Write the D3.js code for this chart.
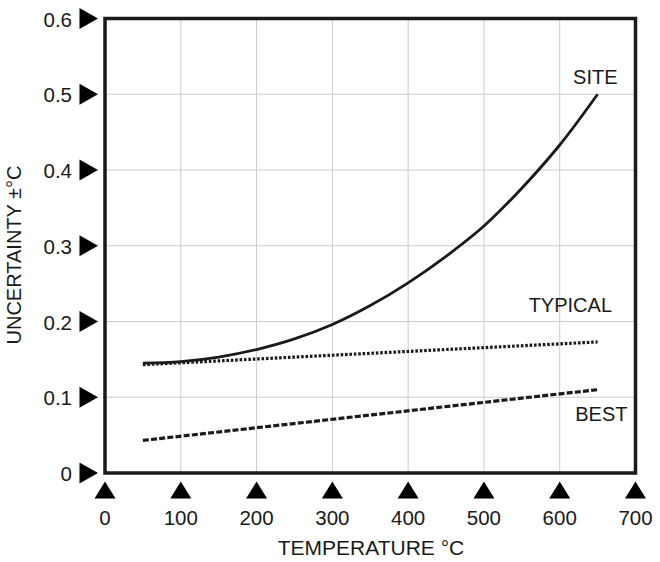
<!DOCTYPE html>
<html>
<head>
<meta charset="utf-8">
<script src="https://cdn.jsdelivr.net/npm/d3@7"></script>
<style>
  body { margin: 0; background: #fff; }
  text { font-family: "Liberation Sans", Arial, sans-serif; fill: #1a1a1a; }
</style>
</head>
<body>
<div id="chart"></div>
<script>
// data
var xTicks = [0, 100, 200, 300, 400, 500, 600, 700];
var yTicks = [0, 0.1, 0.2, 0.3, 0.4, 0.5, 0.6];
var yTickLabels = ["0", "0.1", "0.2", "0.3", "0.4", "0.5", "0.6"];

var siteTemps = [50, 100, 150, 200, 250, 300, 350, 400, 450, 500, 550, 600, 650];
var siteValues = [0.145, 0.147, 0.153, 0.163, 0.177, 0.196, 0.221, 0.251, 0.286, 0.326, 0.376, 0.433, 0.500];
var lineTemps = [50, 650];
var typicalValues = [0.143, 0.173];
var bestValues = [0.043, 0.110];

var seriesLabels = ["SITE", "TYPICAL", "BEST"];

var
  W = 660, H = 562,
  margin = {top: 18.5, right: 24.5, bottom: 89, left: 105},
  width = W - margin.left - margin.right,
  height = H - margin.top - margin.bottom;

var svg = d3.select("#chart")
  .append("svg")
  .attr("width", W)
  .attr("height", H);

var g = svg.append("g")
  .attr("transform", "translate(" + margin.left + "," + margin.top + ")");

var x = d3.scaleLinear().domain([0, 700]).range([0, width]);
var y = d3.scaleLinear().domain([0, 0.6]).range([height, 0]);

// grid
g.append("g").selectAll("line")
  .data(xTicks.slice(1, -1))
  .enter().append("line")
    .attr("x1", x).attr("x2", x)
    .attr("y1", 0).attr("y2", height)
    .attr("stroke", "#cbcbcb").attr("stroke-width", 1);

g.append("g").selectAll("line")
  .data(yTicks.slice(1, -1))
  .enter().append("line")
    .attr("y1", y).attr("y2", y)
    .attr("x1", 0).attr("x2", width)
    .attr("stroke", "#cbcbcb").attr("stroke-width", 1);

// series
var line = d3.line()
  .x(function(d) { return x(d[0]); })
  .y(function(d) { return y(d[1]); });

g.append("path")
  .datum(d3.zip(siteTemps, siteValues))
  .attr("fill", "none")
  .attr("stroke", "#1a1a1a")
  .attr("stroke-width", 2.8)
  .attr("d", line.curve(d3.curveCatmullRom.alpha(0.5)));

g.append("path")
  .datum(d3.zip(lineTemps, typicalValues))
  .attr("fill", "none")
  .attr("stroke", "#1a1a1a")
  .attr("stroke-width", 3.2)
  .attr("stroke-dasharray", "2.6,1.8")
  .attr("d", line.curve(d3.curveLinear));

g.append("path")
  .datum(d3.zip(lineTemps, bestValues))
  .attr("fill", "none")
  .attr("stroke", "#1a1a1a")
  .attr("stroke-width", 3.2)
  .attr("stroke-dasharray", "6,2.2")
  .attr("d", line.curve(d3.curveLinear));

// series labels (position in data units)
var labelPos = [[647, 0.5135], [614, 0.213], [655, 0.069]];
g.selectAll(".series-label")
  .data(seriesLabels)
  .enter().append("text")
    .attr("class", "series-label")
    .attr("x", function(d, i) { return x(labelPos[i][0]); })
    .attr("y", function(d, i) { return y(labelPos[i][1]); })
    .attr("text-anchor", "middle")
    .attr("font-size", "20px")
    .text(function(d) { return d; });

// frame
g.append("rect")
  .attr("width", width)
  .attr("height", height)
  .attr("fill", "none")
  .attr("stroke", "#1a1a1a")
  .attr("stroke-width", 3.5);

// y ticks: right-pointing triangles
var yt = g.append("g").selectAll("g")
  .data(yTicks)
  .enter().append("g")
    .attr("transform", function(d) { return "translate(-7," + y(d) + ")"; });

yt.append("path")
  .attr("d", "M0,0L-18.5,-10.5L-18.5,10.5Z")
  .attr("fill", "#000");

yt.append("text")
  .attr("x", -26)
  .attr("y", 8)
  .attr("text-anchor", "end")
  .attr("font-size", "20.5px")
  .text(function(d, i) { return yTickLabels[i]; });

// x ticks: up-pointing triangles
var xt = g.append("g").selectAll("g")
  .data(xTicks)
  .enter().append("g")
    .attr("transform", function(d) { return "translate(" + x(d) + "," + (height + 8.5) + ")"; });

xt.append("path")
  .attr("d", "M0,0L-10.5,17L10.5,17Z")
  .attr("fill", "#000");

xt.append("text")
  .attr("y", 43.5)
  .attr("text-anchor", "middle")
  .attr("font-size", "20.5px")
  .text(function(d) { return d; });

// axis titles
svg.append("text")
  .attr("x", 371)
  .attr("y", 555)
  .attr("text-anchor", "middle")
  .attr("font-size", "21px")
  .text("TEMPERATURE °C");

svg.append("text")
  .attr("transform", "translate(21,255) rotate(-90)")
  .attr("text-anchor", "middle")
  .attr("font-size", "20px")
  .text("UNCERTAINTY ±°C");
</script>
</body>
</html>
